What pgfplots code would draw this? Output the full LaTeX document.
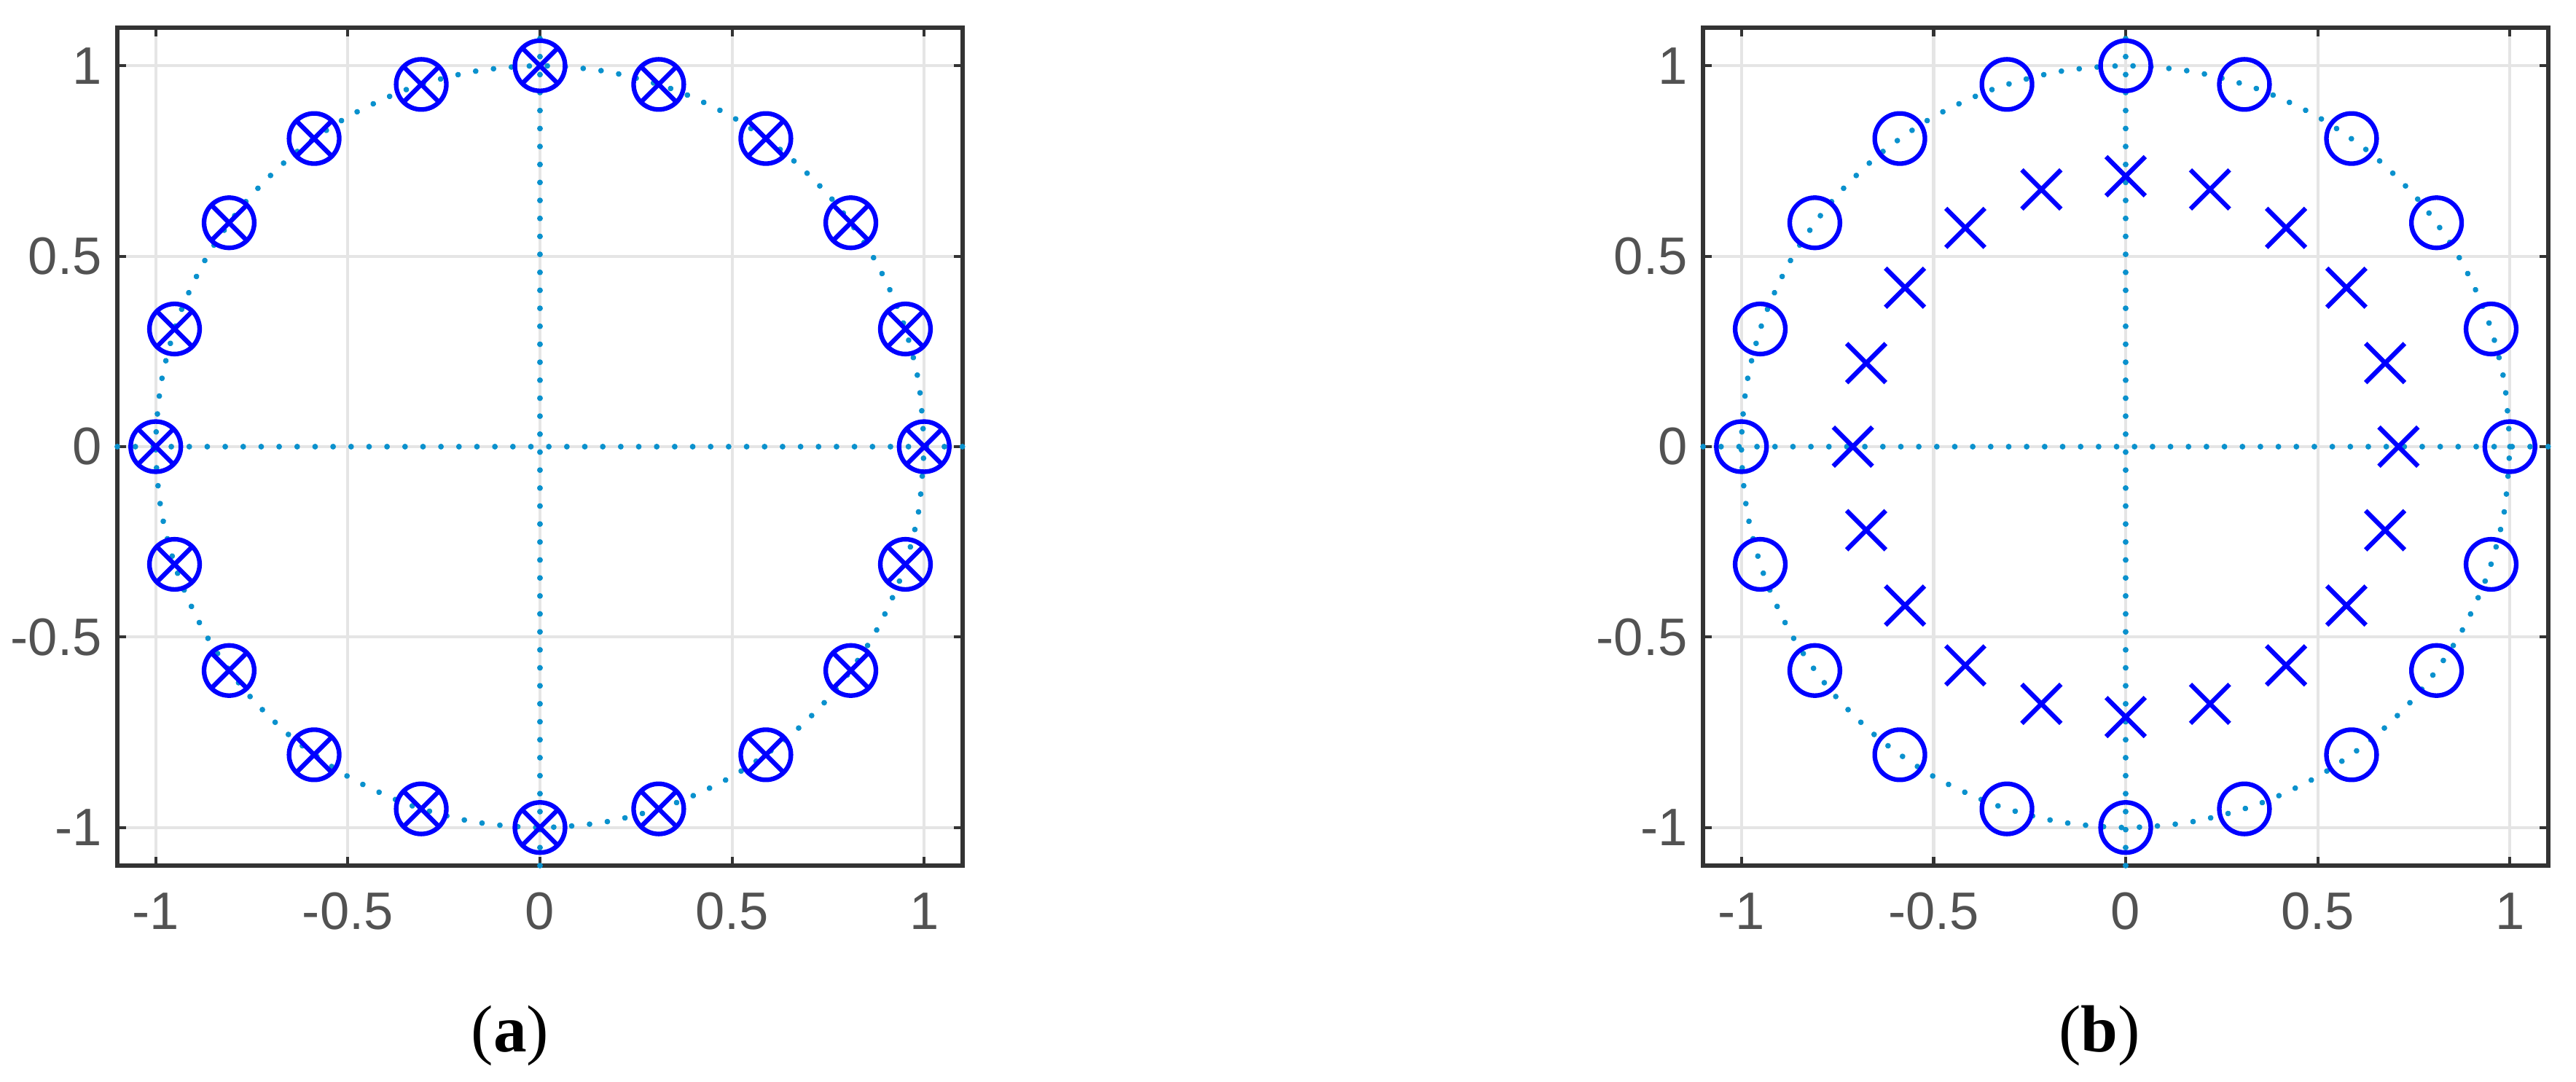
\documentclass[border=0pt]{standalone}
\usepackage{fontspec}
\setmainfont{Liberation Serif}
\newfontfamily\ticksans{Liberation Sans}
\usepackage{pgfplots}
\pgfplotsset{compat=1.18}

\definecolor{markblue}{RGB}{0,0,255}
\definecolor{refline}{RGB}{10,145,205}

% unit circle, every 10 degrees
\pgfplotstableread{
x y
1 0
0.9848 0.1736
0.9397 0.3420
0.8660 0.5000
0.7660 0.6428
0.6428 0.7660
0.5000 0.8660
0.3420 0.9397
0.1736 0.9848
0 1
-0.1736 0.9848
-0.3420 0.9397
-0.5000 0.8660
-0.6428 0.7660
-0.7660 0.6428
-0.8660 0.5000
-0.9397 0.3420
-0.9848 0.1736
-1 0
-0.9848 -0.1736
-0.9397 -0.3420
-0.8660 -0.5000
-0.7660 -0.6428
-0.6428 -0.7660
-0.5000 -0.8660
-0.3420 -0.9397
-0.1736 -0.9848
0 -1
0.1736 -0.9848
0.3420 -0.9397
0.5000 -0.8660
0.6428 -0.7660
0.7660 -0.6428
0.8660 -0.5000
0.9397 -0.3420
0.9848 -0.1736
1 0
}\unitcircle

% zeros on the unit circle
\pgfplotstableread{
x y
1 0
0.9511 0.3090
0.8090 0.5878
0.5878 0.8090
0.3090 0.9511
0 1
-0.3090 0.9511
-0.5878 0.8090
-0.8090 0.5878
-0.9511 0.3090
-1 0
-0.9511 -0.3090
-0.8090 -0.5878
-0.5878 -0.8090
-0.3090 -0.9511
0 -1
0.3090 -0.9511
0.5878 -0.8090
0.8090 -0.5878
0.9511 -0.3090
}\zeros

% poles of (b), radius 0.71
\pgfplotstableread{
x y
0.71 0
0.6753 0.2194
0.5744 0.4173
0.4173 0.5744
0.2194 0.6753
0 0.71
-0.2194 0.6753
-0.4173 0.5744
-0.5744 0.4173
-0.6753 0.2194
-0.71 0
-0.6753 -0.2194
-0.5744 -0.4173
-0.4173 -0.5744
-0.2194 -0.6753
0 -0.71
0.2194 -0.6753
0.4173 -0.5744
0.5744 -0.4173
0.6753 -0.2194
}\polesb

\pgfplotsset{
  zplane/.style={
    scale only axis,
    width=5.8cm, height=5.75cm,
    anchor=south west,
    xmin=-1.1, xmax=1.1, ymin=-1.1, ymax=1.1,
    xtick={-1,-0.5,0,0.5,1},
    ytick={-1,-0.5,0,0.5,1},
    xticklabels={-1,-0.5,0,0.5,1},
    yticklabels={-1,-0.5,0,0.5,1},
    tick align=inside,
    major tick length=0.06cm,
    tick style={black!80, line width=0.6pt},
    grid=major,
    major grid style={black!10, line width=0.6pt},
    axis line style={black!80, line width=0.9pt},
    tick label style={font=\ticksans\fontsize{10.3}{12}\selectfont, text=black!68, inner sep=0pt},
    xticklabel style={yshift=-0.18cm},
    yticklabel style={xshift=-0.1cm},
    clip=false,
  },
  dotline/.style={refline, line width=1.1pt, line cap=round,
    dash pattern=on 0.01pt off 3.5pt, no marks},
  zeromark/.style={only marks, mark=o, mark size=4.9pt,
    mark options={markblue, line width=0.9pt}},
  polemark/.style={only marks, mark=x, mark options={markblue, line width=0.9pt}},
}

\begin{document}
\begin{tikzpicture}[x=1cm,y=1cm]
\useasboundingbox (0,0) rectangle (17.675,7.42);

\begin{axis}[zplane, at={(0.805cm,1.48cm)}]
  \addplot[dotline, smooth] table[x=x,y=y] {\unitcircle};
  \addplot[dotline] coordinates {(-1.1,0) (1.1,0)};
  \addplot[dotline] coordinates {(0,-1.1) (0,1.1)};
  \addplot[zeromark] table[x=x,y=y] {\zeros};
  \addplot[polemark, mark size=4.9pt] table[x=x,y=y] {\zeros};
\end{axis}

\begin{axis}[zplane, at={(11.685cm,1.48cm)}]
  \addplot[dotline, smooth] table[x=x,y=y] {\unitcircle};
  \addplot[dotline] coordinates {(-1.1,0) (1.1,0)};
  \addplot[dotline] coordinates {(0,-1.1) (0,1.1)};
  \addplot[zeromark] table[x=x,y=y] {\zeros};
  \addplot[polemark, mark size=5.4pt] table[x=x,y=y] {\polesb};
\end{axis}

\node[font=\fontsize{13}{15}\selectfont, inner sep=0pt] at (3.50,0.31) {(\textbf{a})};
\node[font=\fontsize{13}{15}\selectfont, inner sep=0pt] at (14.405,0.31) {(\textbf{b})};
\end{tikzpicture}
\end{document}
